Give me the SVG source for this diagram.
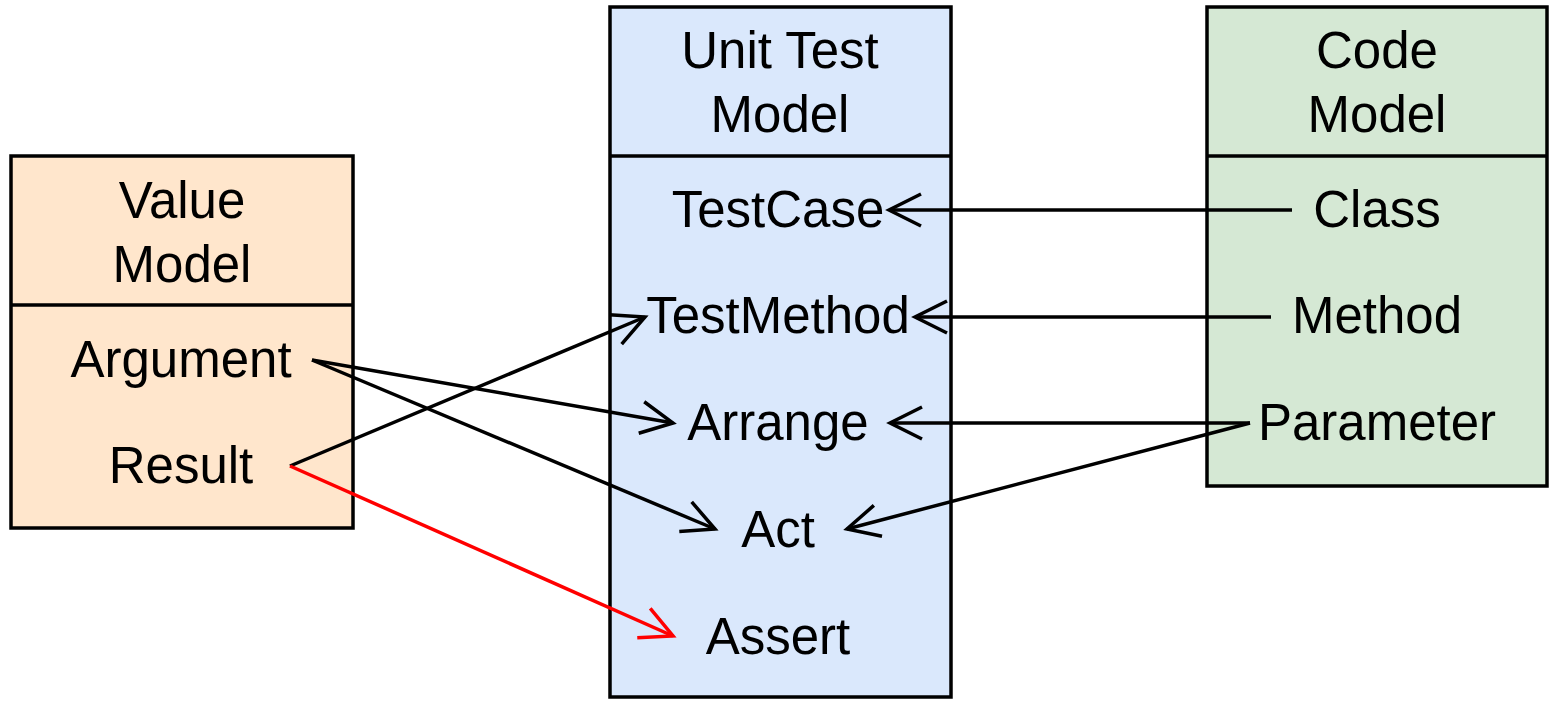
<svg xmlns="http://www.w3.org/2000/svg" width="1549" height="701" viewBox="0 0 1549 701">
<style>
.box{stroke:#000;stroke-width:3.5}
.t{font-family:"Liberation Sans",Arial,sans-serif;font-size:51px;fill:#000;text-anchor:middle}
.c{fill:none;stroke:#000;stroke-width:3.5}
.r{stroke:#ff0000}
</style>
<defs>
<marker id="ah" viewBox="0 0 40 40" refX="36" refY="20" markerWidth="40" markerHeight="40" markerUnits="userSpaceOnUse" orient="auto">
<path d="M4 4 L36 20 L4 36" fill="none" stroke="#000" stroke-width="3.5"/>
</marker>
<marker id="ahr" viewBox="0 0 40 40" refX="36" refY="20" markerWidth="40" markerHeight="40" markerUnits="userSpaceOnUse" orient="auto">
<path d="M4 4 L36 20 L4 36" fill="none" stroke="#ff0000" stroke-width="3.5"/>
</marker>
</defs>
<rect width="1549" height="701" fill="#fff"/>
<g id="value-model">
<rect class="box" x="11" y="156" width="342" height="372" fill="#ffe6cc"/>
<line class="box" x1="11" y1="305" x2="353" y2="305"/>
<text class="t" x="182" y="218">Value</text>
<text class="t" x="182" y="282">Model</text>
<text class="t" x="181" y="377">Argument</text>
<text class="t" x="181" y="483">Result</text>
</g>
<g id="unit-test-model">
<rect class="box" x="610" y="7" width="341" height="690" fill="#dae8fc"/>
<line class="box" x1="610" y1="156" x2="951" y2="156"/>
<text class="t" x="780" y="68">Unit Test</text>
<text class="t" x="780" y="132">Model</text>
<text class="t" x="778" y="227">TestCase</text>
<text class="t" x="778" y="333">TestMethod</text>
<text class="t" x="778" y="440">Arrange</text>
<text class="t" x="778" y="547">Act</text>
<text class="t" x="778" y="654">Assert</text>
</g>
<g id="code-model">
<rect class="box" x="1207" y="7" width="340" height="479" fill="#d5e8d4"/>
<line class="box" x1="1207" y1="156" x2="1547" y2="156"/>
<text class="t" x="1377" y="68">Code</text>
<text class="t" x="1377" y="132">Model</text>
<text class="t" x="1377" y="227">Class</text>
<text class="t" x="1377" y="333">Method</text>
<text class="t" x="1377" y="440">Parameter</text>
</g>
<g id="connectors">
<line class="c" x1="1292" y1="210" x2="889" y2="210" marker-end="url(#ah)"/>
<line class="c" x1="1271" y1="317" x2="915" y2="317" marker-end="url(#ah)"/>
<line class="c" x1="1250" y1="423" x2="890" y2="423" marker-end="url(#ah)"/>
<line class="c" x1="1250" y1="423" x2="847" y2="529" marker-end="url(#ah)"/>
<line class="c" x1="312" y1="360" x2="673" y2="423" marker-end="url(#ah)"/>
<line class="c" x1="312" y1="360" x2="715" y2="529" marker-end="url(#ah)"/>
<line class="c" x1="290" y1="466" x2="645" y2="317" marker-end="url(#ah)"/>
<line class="c r" x1="290" y1="466" x2="673" y2="636" marker-end="url(#ahr)"/>
</g>
</svg>
